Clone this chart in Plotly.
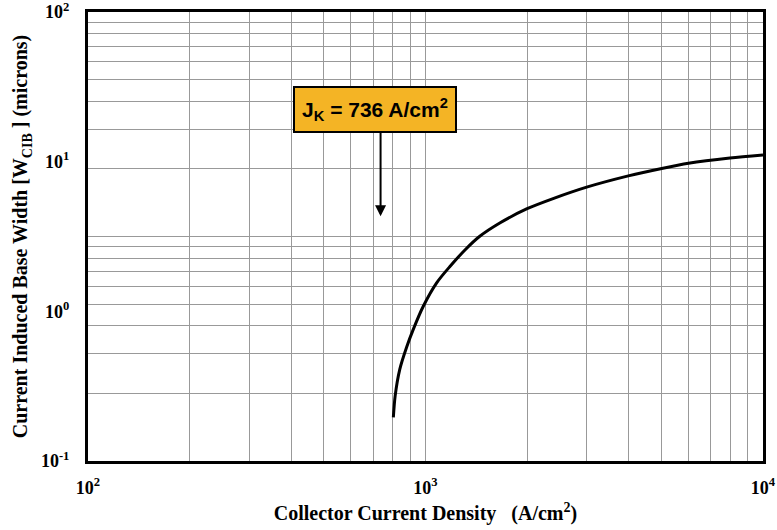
import math
import plotly.graph_objects as go

# Collector current density (A/cm^2) and current-induced base width (microns)
J = [803, 813, 839, 879, 920, 985, 1079, 1183, 1309, 1445, 1660,
     2000, 2399, 3003, 3990, 5012, 6012, 7980, 10000]
W = [0.195, 0.272, 0.409, 0.575, 0.757, 1.08, 1.55, 2.0, 2.57, 3.16, 3.89,
     4.85, 5.69, 6.76, 8.04, 9.02, 9.77, 10.59, 11.09]

x_major = [100, 1000, 10000]
x_major_text = ["<b>10<sup>2</sup></b>", "<b>10<sup>3</sup></b>", "<b>10<sup>4</sup></b>"]
x_minor = [m * 10 ** e for e in (2, 3) for m in range(2, 10)]

y_tick_vals = [0.1, 1, 10, 100]
y_tick_text = ["<b>10<sup>-1</sup></b>", "<b>10<sup>0</sup></b>", "<b>10<sup>1</sup></b>", "<b>10<sup>2</sup></b>"]

# the grid of the original figure spans two log decades over the plot height
grid_major = [0.1, 1, 10]
grid_minor = [m * 10 ** e for e in (-1, 0) for m in range(2, 10)]

JK = 736
arrow_top = 16.6
arrow_tip = 4.32
box_y = 22.3

serif = "Liberation Serif, Times New Roman, serif"
sans = "Liberation Sans, Arial, sans-serif"
grid_col = "#999999"

fig = go.Figure()
fig.add_trace(go.Scatter(x=[J[0]], y=[1], yaxis="y2", mode="markers",
                         marker=dict(opacity=0), hoverinfo="skip", showlegend=False))
fig.add_trace(go.Scatter(x=J, y=W, mode="lines",
                         line=dict(color="black", width=3, shape="spline", smoothing=0.8),
                         showlegend=False))

fig.update_layout(
    width=777, height=530,
    margin=dict(l=88, r=14, t=12, b=69),
    paper_bgcolor="white", plot_bgcolor="white",
    xaxis=dict(type="log", range=[2, 4], tickvals=x_major, ticktext=x_major_text,
               showgrid=True, gridcolor=grid_col, gridwidth=1.3,
               minor=dict(tickvals=x_minor, showgrid=True, gridcolor=grid_col, gridwidth=1.3, ticks=""),
               showline=True, linecolor="black", linewidth=3, mirror=True,
               ticks="", ticklabelstandoff=8, automargin=False, ticklabeloverflow="allow",
               tickfont=dict(family=serif, size=18, color="black"),
               title=dict(text="<b>Collector Current Density   (A/cm<sup>2</sup>)</b>",
                          font=dict(family=serif, size=20, color="black"), standoff=10),
               zeroline=False),
    yaxis=dict(type="log", range=[-1.001, 2.001], tickvals=y_tick_vals, ticktext=y_tick_text,
               showgrid=False, showline=True, linecolor="black", linewidth=3, mirror=True,
               ticks="", ticklabelstandoff=12, automargin=False, ticklabeloverflow="allow",
               tickfont=dict(family=serif, size=18, color="black"),
               title=dict(text="<b>Current Induced Base Width [W<sub>CIB</sub> ] (microns)</b>",
                          font=dict(family=serif, size=20, color="black"), standoff=8),
               zeroline=False),
    yaxis2=dict(type="log", range=[-1, 1], overlaying="y", side="right",
                tickvals=grid_major, showticklabels=False, ticks="", automargin=False,
                showgrid=True, gridcolor=grid_col, gridwidth=1.3,
                minor=dict(tickvals=grid_minor, showgrid=True, gridcolor=grid_col, gridwidth=1.3, ticks=""),
                showline=False, zeroline=False),
)

# arrow pointing at J_K (annotation coordinates on log axes are log10 values)
fig.add_annotation(x=math.log10(JK), y=math.log10(arrow_tip),
                   ax=math.log10(JK), ay=math.log10(arrow_top),
                   xref="x", yref="y", axref="x", ayref="y",
                   text="", showarrow=True, arrowhead=2, arrowsize=1.1, arrowwidth=2, arrowcolor="black")
# label box
fig.add_annotation(x=math.log10(JK), y=math.log10(box_y), xref="x", yref="y",
                   xanchor="center", yanchor="middle",
                   text="<b>J<sub>K</sub> = 736 A/cm<sup>2</sup></b>", showarrow=False,
                   font=dict(family=sans, size=21, color="black"),
                   bgcolor="#F4B425", bordercolor="black", borderwidth=2, borderpad=7, xshift=-6)

fig.write_html("out.html")
